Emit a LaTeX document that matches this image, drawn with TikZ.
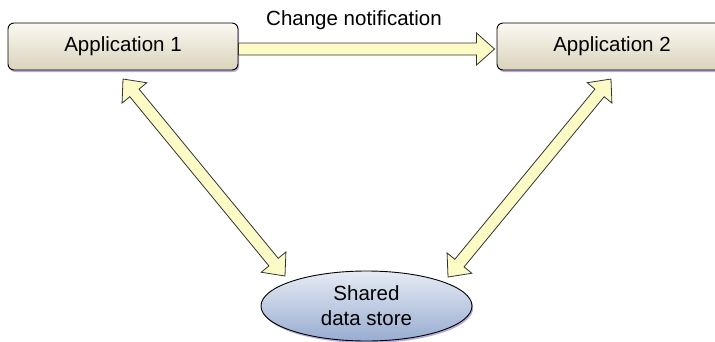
\documentclass[tikz,border=0pt]{standalone}
\usepackage{fontspec}
\setmainfont{Liberation Sans}
\usetikzlibrary{calc,shadows,shapes.geometric}

\definecolor{boxtop}{HTML}{FAF9F2}
\definecolor{boxbot}{HTML}{DAD3BC}
\definecolor{elltop}{HTML}{E6EBF4}
\definecolor{ellbot}{HTML}{98ACD0}
\definecolor{arrowfill}{HTML}{FCFBC6}
\definecolor{edge}{HTML}{333333}
\definecolor{shade}{HTML}{B0A2D6}

% fat arrow dimensions: shaft half-width, head half-width, head length
\def\aw{6pt}
\def\ah{16pt}
\def\al{18pt}

% block arrow with one head at #2
\newcommand\blockarrow[2]{%
  \draw[fatarrow]
    ($(#1)!\aw!90:(#2)$) --
    ($(#2)!\al!(#1)!\aw!-90:(#1)$) --
    ($(#2)!\al!(#1)!\ah!-90:(#1)$) --
    (#2) --
    ($(#2)!\al!(#1)!\ah!90:(#1)$) --
    ($(#2)!\al!(#1)!\aw!90:(#1)$) --
    ($(#1)!\aw!-90:(#2)$) -- cycle;}

% block arrow with heads at both ends
\newcommand\blockdarrow[2]{%
  \draw[fatarrow]
    ($(#1)!\al!(#2)!\aw!90:(#2)$) --
    ($(#2)!\al!(#1)!\aw!-90:(#1)$) --
    ($(#2)!\al!(#1)!\ah!-90:(#1)$) --
    (#2) --
    ($(#2)!\al!(#1)!\ah!90:(#1)$) --
    ($(#2)!\al!(#1)!\aw!90:(#1)$) --
    ($(#1)!\al!(#2)!\aw!-90:(#2)$) --
    ($(#1)!\al!(#2)!\ah!-90:(#2)$) --
    (#1) --
    ($(#1)!\al!(#2)!\ah!90:(#2)$) -- cycle;}

\tikzset{
  appbox/.style={draw=black, line width=0.9pt, rounded corners=6pt,
    minimum width=230pt, minimum height=47pt, inner sep=0pt,
    top color=boxtop, bottom color=boxbot,
    drop shadow={shadow xshift=1.2pt, shadow yshift=-2pt, fill=shade, opacity=0.9},
    font=\fontsize{20.5}{24}\selectfont},
  storeell/.style={ellipse, draw=black, line width=0.9pt,
    minimum width=211pt, minimum height=70pt, inner sep=0pt,
    top color=elltop, bottom color=ellbot,
    drop shadow={shadow xshift=1.2pt, shadow yshift=-2pt, fill=shade, opacity=0.9},
    align=center, font=\fontsize{20.5}{25}\selectfont},
  fatarrow/.style={draw=edge, line width=0.8pt, fill=arrowfill, line join=miter},
  caption/.style={inner sep=0pt, font=\fontsize{20.5}{24}\selectfont}
}

\begin{document}
\begin{tikzpicture}[x=1pt, y=-1pt]
  \useasboundingbox (0,0) rectangle (715,341);
  \clip (0,0) rectangle (715,341);

  % the two applications and the shared store
  \node[appbox] (app1) at (123,46.5) {Application 1};
  \node[appbox] (app2) at (612,46.5) {Application 2};
  \node[storeell] (store) at (366.5,306) {Shared\\data store};

  % arrow end points next to the shapes
  \coordinate (n1) at ($(app1.east)+(0,2.5)$);
  \coordinate (n2) at ($(app2.west)+(-2,2.5)$);
  \coordinate (a1) at (123,79);
  \coordinate (s1) at (285,276);
  \coordinate (a2) at (611,79);
  \coordinate (s2) at (448,277);

  % notification from application 1 to application 2
  \blockarrow{n1}{n2}
  \node[caption] (note) at (354,20) {Change notification};

  % both applications read and write the store
  \blockdarrow{a1}{s1}
  \blockdarrow{a2}{s2}
\end{tikzpicture}
\end{document}
